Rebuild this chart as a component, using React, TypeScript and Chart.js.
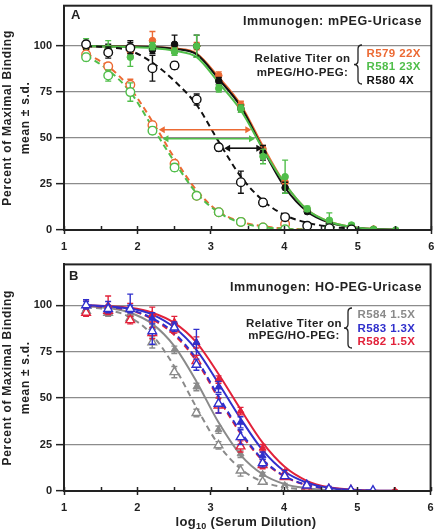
import { useEffect, useRef } from "react";
import { Chart, registerables } from "chart.js";

Chart.register(...registerables);

// ---------------- data ----------------
const LOG_DILUTION = [1.301, 1.602, 1.903, 2.204, 2.505, 2.806, 3.107, 3.408, 3.709, 4.01, 4.311, 4.612, 4.913, 5.214, 5.515];
const X_TICKS = [1, 2, 3, 4, 5, 6];
const X_MINOR_TICKS = [1.5, 2.5, 3.5, 4.5, 5.5];
const Y_TICKS = [0, 25, 50, 75, 100];
const Y_MAX = 122;

// Panel A — immunogen mPEG-Uricase (filled = mPEG, open = HO-PEG)
const A_R579_MPEG = [99, 98, 97, 103, 99, 100, 84, 68, 44, 26, 11, 4.5, 2, 0.5, null];
const A_R579_MPEG_SD = [2, 2, 3, 5, 2, 2, 2, 2, 2, 2, 1, 1, 0.5, 0.5, null];
const A_R581_MPEG = [100, 99, 94, 100, 97, 100, 77, 66, 40, 29, 11.5, 5.3, 2.7, 0.4, 0];
const A_R581_MPEG_SD = [4, 4, 5, 2, 2, 6, 2, 2, 4, 9, 1.5, 4, 1, 0.5, 0];
const A_R580_MPEG = [100, 98, 99, 98, 101, 100, 81, 66, 42, 23, 10, 3.5, 1.5, 0.3, null];
const A_R580_MPEG_SD = [2, 3, 4, 2, 5, 6, 2, 2, 4, 3, 1, 1, 0.5, 0.3, null];
const A_R579_HO = [95.5, 89, 79, 57, 36, 18.6, 9.7, 4.4, 1.4, 3.2, null, null, null, null, null];
const A_R579_HO_SD = [2, 2, 3, 2, 2, 1, 1, 1, 1, 1, null, null, null, null, null];
const A_R581_HO = [94, 84, 75, 54, 34, 18.6, 9.7, 4.4, 1.4, 0.4, null, 1.2, null, null, null];
const A_R581_HO_SD = [2, 3, 5, 2, 2, 1, 1, 1, 1, 0.5, null, 1, null, null, null];
const A_R580_HO = [101, 96.5, 99, 88, 89.5, 71, 45, 26, 15, 7, 2.3, 1, 0.3, null, null];
const A_R580_HO_SD = [2, 3, 3, 7, 2, 3, 2, 6, 2, 1, 1, 1, 0.5, null, null];

const A_FIT_R579_MPEG = [100, 100, 99.8, 99.5, 98.7, 96, 83, 68, 45.5, 25, 11, 4.5, 1.7, 0.6, 0.2];
const A_FIT_R581_MPEG = [100, 99.8, 99.5, 99, 97.5, 94, 80, 65, 44, 25, 11, 4.5, 1.7, 0.6, 0.2];
const A_FIT_R580_MPEG = [100, 100, 99.8, 99.5, 98.5, 95.5, 82, 67, 44, 23, 10, 4, 1.5, 0.5, 0.2];
const A_FIT_R579_HO = [96, 89, 77, 59, 39, 21.5, 10, 4.5, 2, 0.8, 0.3, null, null, null, null];
const A_FIT_R581_HO = [95, 87, 75, 56, 37, 20, 9.5, 4, 1.5, 0.6, 0.2, null, null, null, null];
const A_FIT_R580_HO = [100, 99.4, 97.5, 91, 81, 68, 48, 29, 16, 8, 4, 1.8, 0.7, null, null];

// titer-shift arrows in panel A (start x, end x, level)
const A_ARROW_X_START = [2.29, 2.34, 3.18];
const A_ARROW_X_END = [3.55, 3.6, 3.7];
const A_ARROW_Y = [54.5, 49.6, 44.5];

// Panel B — immunogen HO-PEG-Uricase (filled = mPEG, open = HO-PEG)
const B_R584_MPEG = [98, 97, 95, 88, 76, 56, 33, 20, 9, 3, 1, 0.3, null, null, null];
const B_R584_MPEG_SD = [2, 2, 2, 2, 2, 2, 2, 2, 1, 1, 0.5, 0.3, null, null, null];
const B_R583_MPEG = [100, 99, 99, 93, 89, 80, 56, 37, 19, 9, 4, 1.5, 0.7, 0.3, null];
const B_R583_MPEG_SD = [3, 3, 7, 3, 2, 7, 3, 3, 2, 2, 1, 1, 0.5, 0.3, null];
const B_R582_MPEG = [100, 100, 98, 95, 91, 80, 60, 43, 23, 10, 3.5, 1.2, 0.5, 0.2, 0];
const B_R582_MPEG_SD = [3, 5, 3, 4, 3, 3, 2, 2, 2, 1.5, 1, 0.5, 0.3, 0.2, 0.5];
const B_R584_HO = [97, 96, 93, 80, 64, 42, 24.6, 11, 5, 1, 0.3, null, null, null, null];
const B_R584_HO_SD = [2, 2, 2, 3, 3, 2, 2, 3, 1, 1, 0.3, null, null, null, null];
const B_R583_HO = [100, 98, 98, 86, 88, 68, 47, 29, 15, 8, 3, 1, 0.5, 0.2, null];
const B_R583_HO_SD = [2, 2, 2, 7, 2, 3, 5, 4, 2, 1, 1, 0.5, 0.3, 0.2, null];
const B_R582_HO = [96, 97, 92, 85, 87, 70, 46, 24, 14, 7.5, 2.5, 0.8, 0.3, null, null];
const B_R582_HO_SD = [2, 2, 2, 3, 2, 3, 4, 3, 2, 1, 1, 0.5, 0.3, null, null];

const B_FIT_R582_MPEG = [100, 99.6, 98.6, 96, 90.5, 80, 63, 44, 26, 13, 5.5, 2, 0.8, 0.3, 0.1];
const B_FIT_R583_MPEG = [100, 99.4, 98.2, 95, 88, 76, 58, 39, 22, 10.5, 4.5, 1.7, 0.6, 0.2, 0.1];
const B_FIT_R584_MPEG = [99.5, 98.5, 96, 90, 78, 59, 37, 19.5, 9, 3.7, 1.5, 0.5, 0.2, null, null];
const B_FIT_R582_HO = [99.8, 98.9, 97.3, 92.5, 84, 70, 50, 31, 16.5, 7.7, 3.2, 1.2, 0.5, null, null];
const B_FIT_R583_HO = [100, 99, 97.5, 93, 85, 71, 51, 32, 17, 8, 3.3, 1.3, 0.5, 0.2, null];
const B_FIT_R584_HO = [99, 97.5, 93.5, 84, 67, 45, 25, 12, 5, 2, 0.7, 0.2, null, null, null];

// text
const A_LEGEND = ["R579 22X", "R581 23X", "R580 4X"];
const B_LEGEND = ["R584 1.5X", "R583 1.3X", "R582 1.5X"];

// ---------------- styling ----------------
const ORANGE = "#EC6A34";
const GREEN = "#50BE4A";
const BLACK = "#111111";
const GRAY = "#8A8A8A";
const BLUE = "#3030CC";
const RED = "#E2223A";
const INK = "#222222";
const FONT = '"Liberation Sans", Arial, Helvetica, sans-serif';

type Pt = { x: number; y: number | null };
const pts = (ys: (number | null)[]): Pt[] => LOG_DILUTION.map((x, i) => ({ x, y: ys[i] }));
const curvePts = (ys: (number | null)[]) => pts(ys).filter((p) => p.y !== null);

function curve(ys: (number | null)[], color: string, dashed: boolean) {
  return {
    data: curvePts(ys),
    borderColor: color,
    borderWidth: 2,
    borderDash: dashed ? [6, 4] : [],
    pointRadius: 0,
    showLine: true,
    fill: false,
    cubicInterpolationMode: "monotone",
    order: 2,
  };
}

function markers(ys: (number | null)[], sd: (number | null)[], color: string, style: string, open: boolean, r: number) {
  return {
    data: pts(ys),
    showLine: false,
    pointStyle: style,
    pointRadius: r,
    pointBackgroundColor: open ? "#ffffff" : color,
    pointBorderColor: color,
    pointBorderWidth: open ? 1.4 : 1,
    errorBars: sd,
    errColor: color,
    order: 1,
  };
}

const errorBarPlugin = {
  id: "errorBars",
  beforeDatasetDraw(chart: any, args: any) {
    const ds = chart.data.datasets[args.index];
    if (!ds.errorBars) return;
    const ctx = chart.ctx;
    const ys = chart.scales.y;
    ctx.save();
    ctx.strokeStyle = ds.errColor;
    ctx.lineWidth = 1.4;
    args.meta.data.forEach((el: any, i: number) => {
      const p = ds.data[i];
      const e = ds.errorBars[i];
      if (!p || p.y === null || e === null || e === undefined || e <= 0) return;
      const x = el.x;
      const y1 = ys.getPixelForValue(p.y + e);
      const y2 = ys.getPixelForValue(Math.max(p.y - e, 0));
      ctx.beginPath();
      ctx.moveTo(x, y1);
      ctx.lineTo(x, y2);
      ctx.moveTo(x - 3, y1);
      ctx.lineTo(x + 3, y1);
      ctx.moveTo(x - 3, y2);
      ctx.lineTo(x + 3, y2);
      ctx.stroke();
    });
    ctx.restore();
  },
};

function drawBrace(ctx: CanvasRenderingContext2D, x: number, w: number, yTop: number, yBot: number) {
  const mid = (yTop + yBot) / 2;
  const xm = x + w / 2;
  const r = 4;
  ctx.beginPath();
  ctx.moveTo(x + w, yTop);
  ctx.quadraticCurveTo(xm, yTop, xm, yTop + r);
  ctx.lineTo(xm, mid - r);
  ctx.quadraticCurveTo(xm, mid, x, mid);
  ctx.quadraticCurveTo(xm, mid, xm, mid + r);
  ctx.lineTo(xm, yBot - r);
  ctx.quadraticCurveTo(xm, yBot, x + w, yBot);
  ctx.stroke();
}

function drawArrowHead(ctx: CanvasRenderingContext2D, x: number, y: number, dir: number) {
  ctx.beginPath();
  ctx.moveTo(x, y);
  ctx.lineTo(x - dir * 6, y - 3.5);
  ctx.lineTo(x - dir * 6, y + 3.5);
  ctx.closePath();
  ctx.fill();
}

function makeDecor(spec: any) {
  return {
    id: "decor" + spec.letter,
    afterDatasetsDraw(chart: any) {
      if (!spec.arrows) return;
      const ctx = chart.ctx;
      const xs = chart.scales.x;
      const ys = chart.scales.y;
      ctx.save();
      spec.arrows.xs.forEach((xs0: number, i: number) => {
        const c = spec.arrows.colors[i];
        const x1 = xs.getPixelForValue(xs0);
        const x2 = xs.getPixelForValue(spec.arrows.xe[i]);
        const y = ys.getPixelForValue(spec.arrows.y[i]);
        ctx.strokeStyle = c;
        ctx.fillStyle = c;
        ctx.lineWidth = 1.6;
        ctx.beginPath();
        ctx.moveTo(x1 + 4, y);
        ctx.lineTo(x2 - 4, y);
        ctx.stroke();
        drawArrowHead(ctx, x1, y, -1);
        drawArrowHead(ctx, x2, y, 1);
      });
      ctx.restore();
    },
    afterDraw(chart: any) {
      const ctx = chart.ctx;
      const a = chart.chartArea;
      const xs = chart.scales.x;
      ctx.save();
      // frame
      ctx.strokeStyle = INK;
      ctx.lineWidth = 2;
      ctx.strokeRect(a.left, a.top, a.right - a.left, a.bottom - a.top);
      // inward ticks
      ctx.lineWidth = 1.5;
      ctx.beginPath();
      [...X_TICKS, ...X_MINOR_TICKS].forEach((v) => {
        const x = Math.round(xs.getPixelForValue(v)) + 0.5;
        ctx.moveTo(x, a.bottom);
        ctx.lineTo(x, a.bottom - 4);
      });
      ctx.stroke();

      ctx.fillStyle = INK;
      ctx.textBaseline = "alphabetic";
      // panel letter
      ctx.font = `bold 13px ${FONT}`;
      ctx.textAlign = "left";
      ctx.fillText(spec.letter, spec.letterX, spec.letterY);
      // immunogen
      (ctx as any).letterSpacing = "0.6px";
      ctx.font = `bold 12.5px ${FONT}`;
      ctx.textAlign = "right";
      ctx.fillText(spec.immunogen, 422, spec.immY);
      // relative titer label
      (ctx as any).letterSpacing = "0.4px";
      ctx.font = `bold 11.5px ${FONT}`;
      ctx.textAlign = "center";
      ctx.fillText("Relative Titer on", spec.relX, spec.relY[0]);
      ctx.fillText("mPEG/HO-PEG:", spec.relX, spec.relY[1]);
      // legend entries
      ctx.textAlign = "left";
      spec.legend.forEach((t: string, i: number) => {
        ctx.fillStyle = spec.legendColors[i];
        ctx.fillText(t, spec.legX, spec.legY[i]);
      });
      ctx.strokeStyle = INK;
      ctx.lineWidth = 1.3;
      drawBrace(ctx, spec.braceX, spec.braceW, spec.braceTop, spec.braceBot);

      // y title
      ctx.fillStyle = INK;
      (ctx as any).letterSpacing = "0.7px";
      ctx.font = `bold 12px ${FONT}`;
      const cy = (a.top + a.bottom) / 2;
      ctx.save();
      ctx.translate(11, cy);
      ctx.rotate(-Math.PI / 2);
      ctx.textAlign = "center";
      ctx.fillText("Percent of Maximal Binding", 0, 0);
      ctx.restore();
      ctx.save();
      ctx.translate(28.5, cy);
      ctx.rotate(-Math.PI / 2);
      ctx.textAlign = "center";
      ctx.fillText("mean \u00b1 s.d.", 0, 0);
      ctx.restore();

      // x title with subscript
      if (spec.xTitle) {
        (ctx as any).letterSpacing = "0.3px";
        ctx.textAlign = "left";
        const big = `bold 13px ${FONT}`;
        const small = `bold 9px ${FONT}`;
        ctx.font = big;
        const w1 = ctx.measureText("log").width;
        const w3 = ctx.measureText(" (Serum Dilution)").width;
        ctx.font = small;
        const w2 = ctx.measureText("10").width;
        let x = 246 - (w1 + w2 + w3) / 2;
        const yb = spec.xTitleY;
        ctx.font = big;
        ctx.fillText("log", x, yb);
        x += w1;
        ctx.font = small;
        ctx.fillText("10", x, yb + 3);
        x += w2;
        ctx.font = big;
        ctx.fillText(" (Serum Dilution)", x, yb);
      }
      ctx.restore();
    },
  };
}

function buildConfig(spec: any) {
  const tickFont = { family: FONT, size: 11, weight: "bold" as const };
  return {
    type: "line",
    data: { datasets: spec.datasets },
    options: {
      responsive: false,
      animation: false,
      events: [],
      layout: { padding: { left: 0, right: 4, top: spec.padTop, bottom: 0 } },
      plugins: { legend: { display: false }, tooltip: { enabled: false }, title: { display: false } },
      scales: {
        x: {
          type: "linear",
          min: 1,
          max: 6,
          afterBuildTicks: (s: any) => {
            s.ticks = X_TICKS.map((v) => ({ value: v }));
          },
          ticks: { font: tickFont, color: INK, padding: 6, maxRotation: 0, autoSkip: false },
          grid: { drawOnChartArea: false, tickLength: 4, tickColor: INK, tickWidth: 1.5 },
          border: { color: INK, width: 2 },
          afterFit: (s: any) => {
            s.height = spec.xAxisHeight;
            s.paddingLeft = 0;
            s.paddingRight = 0;
          },
        },
        y: {
          min: 0,
          max: Y_MAX,
          afterBuildTicks: (s: any) => {
            s.ticks = Y_TICKS.map((v) => ({ value: v }));
          },
          ticks: { font: tickFont, color: INK, padding: 4, autoSkip: false },
          grid: { color: "#8C8C8C", lineWidth: 1.3, tickColor: INK, tickLength: 8, tickWidth: 1.5 },
          border: { color: INK, width: 2 },
          afterFit: (s: any) => {
            s.width = 64;
            s.paddingTop = 0;
            s.paddingBottom = 0;
          },
        },
      },
    },
    plugins: [errorBarPlugin, makeDecor(spec)],
  };
}

const SPEC_A = {
  letter: "A",
  letterX: 71,
  letterY: 18.5,
  immunogen: "Immunogen: mPEG-Uricase",
  immY: 25,
  relX: 302.5,
  relY: [62, 75.5],
  legend: A_LEGEND,
  legendColors: [ORANGE, GREEN, BLACK],
  legX: 366.5,
  legY: [56.5, 69.5, 83.5],
  braceX: 354,
  braceW: 8,
  braceTop: 45,
  braceBot: 84,
  padTop: 1,
  xAxisHeight: 28,
  xTitle: false,
  arrows: { xs: A_ARROW_X_START, xe: A_ARROW_X_END, y: A_ARROW_Y, colors: [ORANGE, GREEN, BLACK] },
  datasets: [
    markers(A_R580_HO, A_R580_HO_SD, BLACK, "circle", true, 4.3),
    markers(A_R581_HO, A_R581_HO_SD, GREEN, "circle", true, 4.3),
    markers(A_R579_HO, A_R579_HO_SD, ORANGE, "circle", true, 4.3),
    markers(A_R581_MPEG, A_R581_MPEG_SD, GREEN, "circle", false, 3.3),
    markers(A_R580_MPEG, A_R580_MPEG_SD, BLACK, "circle", false, 3.3),
    markers(A_R579_MPEG, A_R579_MPEG_SD, ORANGE, "circle", false, 3.3),
    curve(A_FIT_R580_HO, BLACK, true),
    curve(A_FIT_R581_HO, GREEN, true),
    curve(A_FIT_R579_HO, ORANGE, true),
    curve(A_FIT_R581_MPEG, GREEN, false),
    curve(A_FIT_R580_MPEG, BLACK, false),
    curve(A_FIT_R579_MPEG, ORANGE, false),
  ],
};

const SPEC_B = {
  letter: "B",
  letterX: 69,
  letterY: 21.5,
  immunogen: "Immunogen: HO-PEG-Uricase",
  immY: 32.5,
  relX: 294,
  relY: [68.5, 80.5],
  legend: B_LEGEND,
  legendColors: [GRAY, BLUE, RED],
  legX: 357.5,
  legY: [59.5, 73.5, 87],
  braceX: 344,
  braceW: 8,
  braceTop: 50,
  braceBot: 90,
  padTop: 6,
  xAxisHeight: 40,
  xTitle: true,
  xTitleY: 268,
  arrows: null,
  datasets: [
    markers(B_R583_HO, B_R583_HO_SD, BLUE, "triangle", true, 5),
    markers(B_R582_HO, B_R582_HO_SD, RED, "triangle", true, 5),
    markers(B_R584_HO, B_R584_HO_SD, GRAY, "triangle", true, 5),
    markers(B_R583_MPEG, B_R583_MPEG_SD, BLUE, "triangle", false, 4),
    markers(B_R582_MPEG, B_R582_MPEG_SD, RED, "triangle", false, 4),
    markers(B_R584_MPEG, B_R584_MPEG_SD, GRAY, "triangle", false, 4),
    curve(B_FIT_R583_HO, BLUE, true),
    curve(B_FIT_R582_HO, RED, true),
    curve(B_FIT_R584_HO, GRAY, true),
    curve(B_FIT_R583_MPEG, BLUE, false),
    curve(B_FIT_R582_MPEG, RED, false),
    curve(B_FIT_R584_MPEG, GRAY, false),
  ],
};

function Panel({ spec, top, height }: { spec: any; top: number; height: number }) {
  const ref = useRef<HTMLCanvasElement>(null);
  useEffect(() => {
    const chart = new Chart(ref.current as HTMLCanvasElement, buildConfig(spec) as any);
    return () => chart.destroy();
  }, [spec]);
  return (
    <canvas
      ref={ref}
      width={437}
      height={height}
      style={{ position: "absolute", left: 0, top, width: 437, height, display: "block" }}
    />
  );
}

export default function App() {
  return (
    <div style={{ position: "absolute", left: 0, top: 0, width: 437, height: 531, background: "#fff", overflow: "hidden" }}>
      <Panel spec={SPEC_A} top={0} height={258} />
      <Panel spec={SPEC_B} top={258} height={273} />
    </div>
  );
}
